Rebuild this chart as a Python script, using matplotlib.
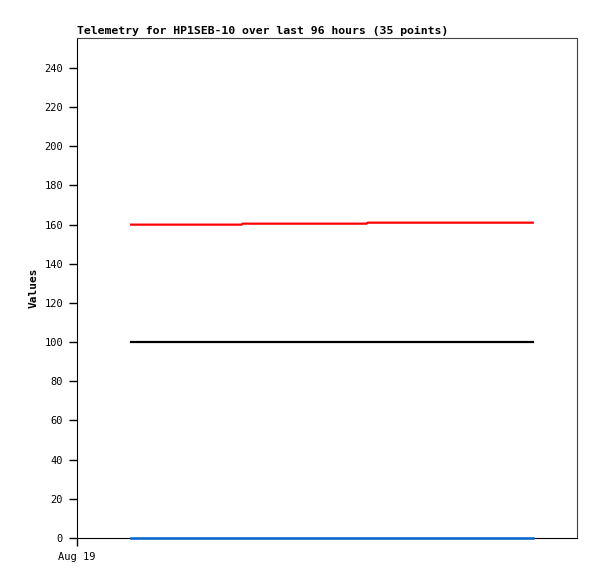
import matplotlib
matplotlib.use("Agg")
import matplotlib.pyplot as plt

hours = [10.4, 12.7, 15.0, 17.3, 19.6, 21.9, 24.2, 26.5, 28.8, 31.6,
         31.8, 34.0, 36.3, 38.6, 40.9, 43.2, 45.5, 47.8, 50.1, 52.4,
         55.6, 55.8, 58.0, 60.3, 62.6, 64.9, 67.2, 69.5, 71.8, 74.1,
         76.4, 78.7, 81.0, 84.3, 87.5]
red_vals = [160.0] * 10 + [160.5] * 11 + [161.0] * 14
black_vals = [100.0] * 35
blue_vals = [0.2] * 35
yticks = [0, 20, 40, 60, 80, 100, 120, 140, 160, 180, 200, 220, 240]
xtick_pos = [0]
xtick_labels = ["Aug 19"]

plt.rcParams['font.family'] = ['DejaVu Sans Mono']
fig = plt.figure(figsize=(5.97, 5.79), dpi=100)
ax = fig.add_axes([77/597, 41/579, 500/597, 500/579])

ax.plot(hours, blue_vals, color="#0066cc", lw=1.8, zorder=5, clip_on=False)
ax.plot(hours, black_vals, color="black", lw=1.6, zorder=4)
ax.plot(hours, red_vals, color="red", lw=1.6, zorder=4)

ax.set_xlim(0, 96)
ax.set_ylim(0, 255.3)
ax.set_yticks(yticks)
ax.set_yticklabels([str(v) for v in yticks], fontsize=7.5)
ax.set_xticks(xtick_pos)
ax.set_xticklabels(xtick_labels, fontsize=7.5)
ax.tick_params(direction="out", length=6, width=1, pad=4)
for s in ["top", "right"]:
    ax.spines[s].set_color("#444444")
ax.set_ylabel("Values", fontsize=8, fontweight="bold")
ax.set_title("Telemetry for HP1SEB-10 over last 96 hours (35 points)",
             fontsize=8.25, fontweight="bold", loc="left", pad=3)
fig.savefig("out.png", dpi=100)
